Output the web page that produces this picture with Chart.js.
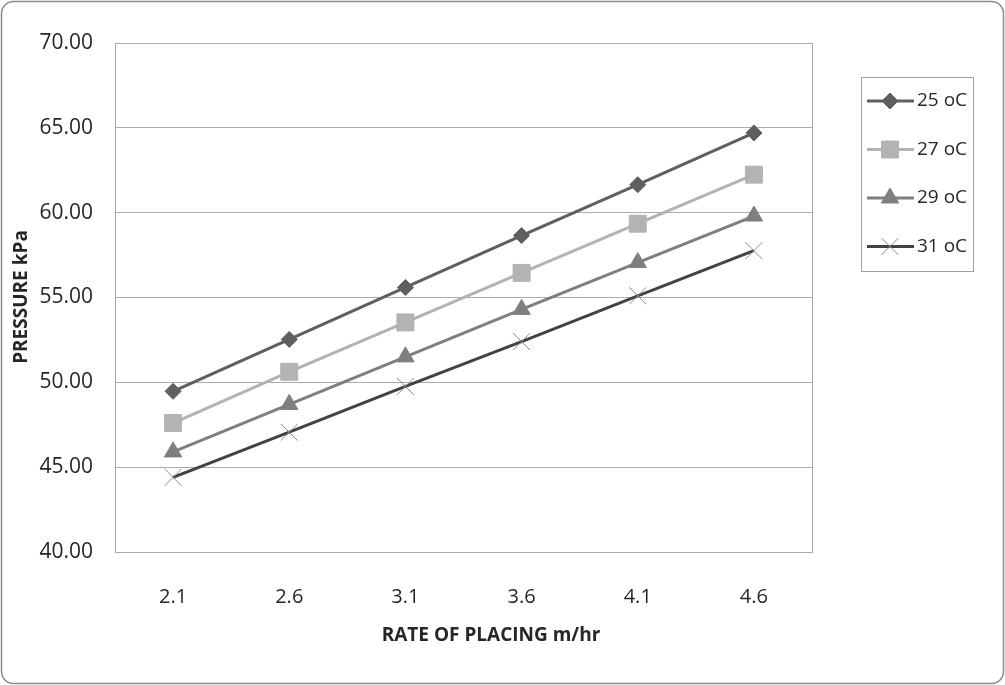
<!DOCTYPE html>
<html>
<head>
<meta charset="utf-8">
<script src="https://cdn.jsdelivr.net/npm/chart.js@4.4.1/dist/chart.umd.min.js"></script>
<style>
  html, body { margin: 0; padding: 0; background: #fff; }
  #wrap { width: 1005px; height: 685px; }
</style>
</head>
<body>
<div id="wrap"><canvas id="canvas" width="1005" height="685"></canvas></div>
<script>
  // Data
  const rates = ['2.1', '2.6', '3.1', '3.6', '4.1', '4.6'];
  const seriesNames = ['25 oC', '27 oC', '29 oC', '31 oC'];
  const p25 = [49.47, 52.53, 55.59, 58.65, 61.65, 64.70];
  const p27 = [47.60, 50.62, 53.53, 56.45, 59.35, 62.24];
  const p29 = [45.90, 48.70, 51.50, 54.30, 57.06, 59.80];
  const p31 = [44.40, 47.06, 49.76, 52.40, 55.10, 57.76];
  const yTicks = [40, 45, 50, 55, 60, 65, 70];

  const gridColor = '#ababab';
  const textColor = '#262626';

  const ctx = document.getElementById('canvas').getContext('2d');

  // frame, plot border, axis titles and legend box
  const decor = {
    id: 'decor',
    beforeDraw(chart) {
      const c = chart.ctx;
      c.save();
      c.fillStyle = '#fff';
      c.fillRect(0, 0, chart.width, chart.height);
      c.strokeStyle = '#8a8a8a';
      c.lineWidth = 1.5;
      c.beginPath();
      c.roundRect(1.5, 1.5, chart.width - 3, chart.height - 3, 12);
      c.stroke();
      c.restore();
    },
    afterDraw(chart) {
      const c = chart.ctx;
      const a = chart.chartArea;
      c.save();
      c.strokeStyle = gridColor;
      c.lineWidth = 1;
      c.strokeRect(Math.round(a.left) + 0.5, Math.round(a.top) + 0.5,
        Math.round(a.right - a.left), Math.round(a.bottom - a.top));

      // axis titles
      c.fillStyle = textColor;
      c.font = 'bold 19px "Open Sans"';
      c.textAlign = 'center';
      c.textBaseline = 'middle';
      c.fillText('RATE OF PLACING m/hr', 491, 636);
      c.translate(22, 297);
      c.rotate(-Math.PI / 2);
      c.fillText('PRESSURE kPa', 0, 0);
      c.restore();

      // legend
      c.save();
      c.strokeStyle = '#a0a0a0';
      c.lineWidth = 1;
      c.strokeRect(861.5, 77.5, 112, 194);
      chart.data.datasets.forEach((ds, i) => {
        const y = 101 + i * 48.5;
        c.strokeStyle = ds.borderColor;
        c.lineWidth = ds.borderWidth;
        c.beginPath();
        c.moveTo(867, y);
        c.lineTo(914, y);
        c.stroke();
        c.fillStyle = ds.pointBackgroundColor;
        c.strokeStyle = ds.pointBorderColor;
        c.lineWidth = ds.pointBorderWidth;
        Chart.helpers.drawPoint(c, {
          pointStyle: ds.pointStyle, radius: ds.pointRadius,
          rotation: 0, borderWidth: ds.pointBorderWidth
        }, 890, y);
        c.fillStyle = textColor;
        c.font = '19px "Open Sans"';
        c.textAlign = 'left';
        c.textBaseline = 'middle';
        c.fillText(seriesNames[i], 917, y);
      });
      c.restore();
    }
  };

  const chart = new Chart(ctx, {
    type: 'line',
    data: {
      labels: rates,
      datasets: [
        { label: seriesNames[0], data: p25, borderColor: '#5f5f5f', borderWidth: 3,
          pointStyle: 'rectRot', pointRadius: 8, pointBackgroundColor: '#5f5f5f',
          pointBorderColor: '#5f5f5f', pointBorderWidth: 1 },
        { label: seriesNames[1], data: p27, borderColor: '#b3b3b3', borderWidth: 3,
          pointStyle: 'rect', pointRadius: 12, pointBackgroundColor: '#b3b3b3',
          pointBorderColor: '#b3b3b3', pointBorderWidth: 1 },
        { label: seriesNames[2], data: p29, borderColor: '#7f7f7f', borderWidth: 3,
          pointStyle: 'triangle', pointRadius: 10, pointBackgroundColor: '#7f7f7f',
          pointBorderColor: '#7f7f7f', pointBorderWidth: 1 },
        { label: seriesNames[3], data: p31, borderColor: '#424242', borderWidth: 3,
          pointStyle: 'crossRot', pointRadius: 12, pointBackgroundColor: '#8c8c8c',
          pointBorderColor: '#8c8c8c', pointBorderWidth: 1 }
      ]
    },
    options: {
      responsive: false,
      animation: false,
      events: [],
      layout: { padding: { left: 0, right: 193, top: 43, bottom: 0 } },
      plugins: { legend: { display: false }, tooltip: { enabled: false } },
      scales: {
        x: {
          offset: true,
          grid: { display: false, drawTicks: false },
          border: { display: true, color: gridColor },
          ticks: { color: textColor, padding: 33, font: { family: 'Open Sans', size: 20 } },
          afterFit(scale) { scale.height = 133; }
        },
        y: {
          min: 40,
          max: 70,
          afterBuildTicks(scale) { scale.ticks = yTicks.map(v => ({ value: v })); },
          grid: { color: gridColor, drawTicks: false },
          border: { display: true, color: gridColor },
          ticks: {
            color: textColor, padding: 22, font: { family: 'Open Sans', size: 21 },
            callback: v => v.toFixed(2)
          },
          afterFit(scale) { scale.width = 115; }
        }
      }
    },
    plugins: [decor]
  });
</script>
</body>
</html>
